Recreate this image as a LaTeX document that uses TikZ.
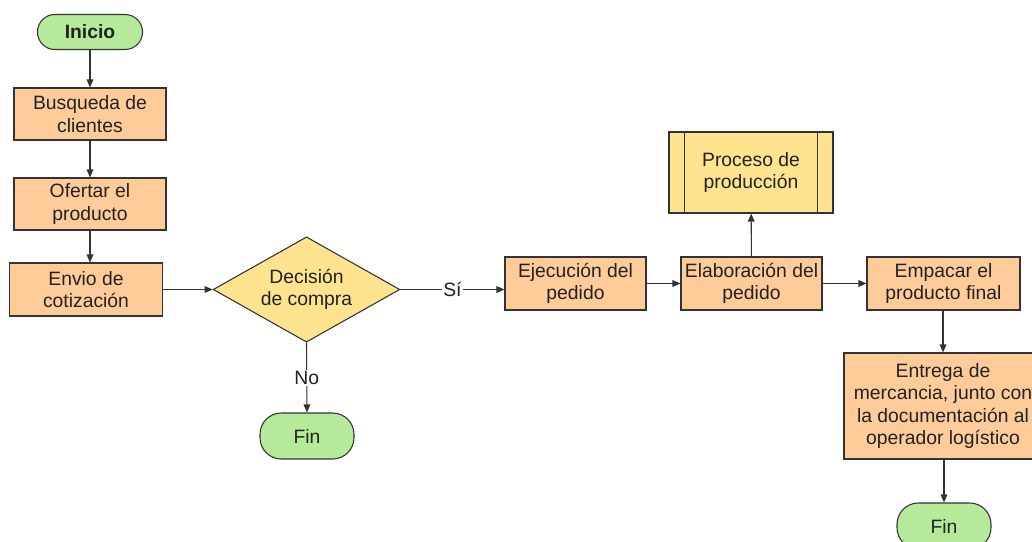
\documentclass[tikz,border=0pt]{standalone}
\usepackage{fontspec}
\setmainfont{Liberation Sans}
\usetikzlibrary{shapes.geometric,arrows.meta}
\definecolor{boxfill}{HTML}{FFCC99}
\definecolor{decfill}{HTML}{FFE38E}
\definecolor{endfill}{HTML}{B5EA9A}
\definecolor{linecol}{HTML}{333333}
\definecolor{txtcol}{HTML}{222222}
\newcommand\flowfont{\fontsize{14.5}{16.8}\selectfont}
\tikzset{
  base/.style={draw=linecol, line width=0.8pt, text=txtcol, align=center,
    font=\flowfont, inner sep=0pt},
  procbox/.style={base, rectangle, fill=boxfill},
  terminal/.style={base, rectangle, rounded corners=16pt, fill=endfill,
    minimum width=70.5pt, minimum height=34.5pt},
  decision/.style={base, diamond, aspect=1.78, fill=decfill,
    minimum width=140pt, minimum height=79pt},
  subproc/.style={base, rectangle, fill=decfill,
    minimum width=123pt, minimum height=60.75pt},
  flow/.style={draw=linecol, line width=0.8pt, -{Triangle[length=6pt,width=5pt]}},
  flowlabel/.style={fill=white, text=txtcol, inner sep=1pt, font=\flowfont}
}
\begin{document}
\begin{tikzpicture}[x=0.75pt, y=-0.75pt]
  \useasboundingbox (0,0) rectangle (1032,542);
  \clip (0,0) rectangle (1032,542);
  \fill[white] (0,0) rectangle (1032,542);

  % left column
  \node[terminal, minimum width=78.75pt, minimum height=26.25pt, rounded corners=13pt,
        font=\flowfont\bfseries] (inicio) at (90,32) {Inicio};
  \node[procbox, minimum width=114pt, minimum height=39pt] (busq) at (90,114)
    {Busqueda de\\clientes};
  \node[procbox, minimum width=114pt, minimum height=39pt] (ofer) at (90,204)
    {Ofertar el\\producto};
  \node[procbox, minimum width=114.75pt, minimum height=39.75pt] (envio) at (86,289.5)
    {Envio de\\cotización};

  % decision
  \node[decision] (dec) at (306.5,289.5) {Decisión\\de compra};
  \node[terminal] (fin1) at (307,436) {Fin};

  % order handling
  \node[procbox, minimum width=105.75pt, minimum height=39.75pt] (ejec) at (575.5,283.5)
    {Ejecución del\\pedido};
  \node[procbox, minimum width=105.75pt, minimum height=39.75pt] (elab) at (751.5,283.5)
    {Elaboración del\\pedido};
  \node[subproc] (proc) at (751,172.5) {Proceso de\\producción};
  \draw[draw=linecol, line width=0.8pt]
    ([xshift=12pt]proc.north west) -- ([xshift=12pt]proc.south west)
    ([xshift=-12pt]proc.north east) -- ([xshift=-12pt]proc.south east);

  % right column
  \node[procbox, minimum width=114.75pt, minimum height=39.75pt] (empa) at (943.5,283.5)
    {Empacar el\\producto final};
  \node[procbox, minimum width=148.5pt, minimum height=79.5pt] (entr) at (943,406)
    {Entrega de\\mercancia, junto con\\la documentación al\\operador logístico};
  \node[terminal] (fin2) at (944,526) {Fin};

  % connectors
  \draw[flow] (inicio) -- (busq);
  \draw[flow] (busq) -- (ofer);
  \draw[flow] (ofer.south) -- (ofer.south |- envio.north);
  \draw[flow] (envio.east |- dec.west) -- (dec.west);
  \draw[flow] (dec.east) -- node[flowlabel] {Sí} (ejec.west |- dec.east);
  \draw[flow] (dec.south) -- node[flowlabel] {No} (fin1.north);
  \draw[flow] (ejec) -- (elab);
  \draw[flow] (elab) -- (proc);
  \draw[flow] (elab) -- (empa);
  \draw[flow] (empa.south -| entr.north) -- (entr.north);
  \draw[flow] (entr.south) -- (entr.south -| fin2.north) -- (fin2.north);
\end{tikzpicture}
\end{document}
